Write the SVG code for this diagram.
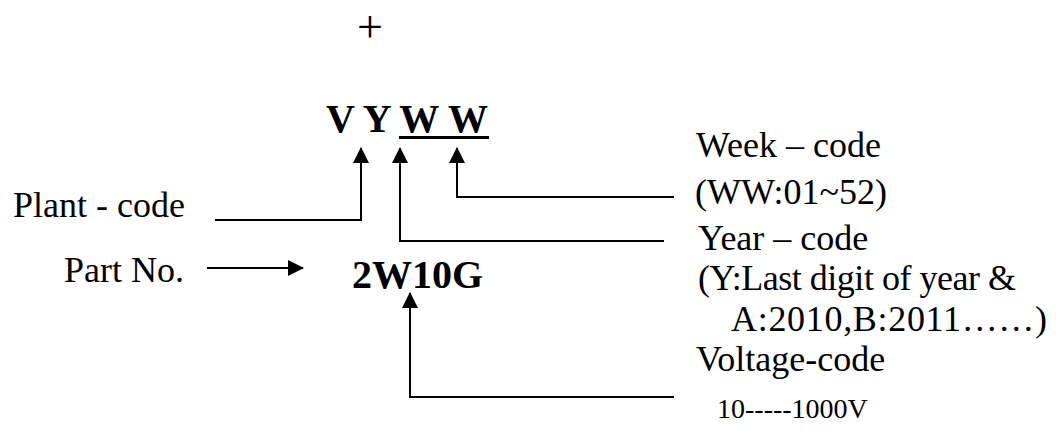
<svg xmlns="http://www.w3.org/2000/svg" width="1056" height="448" viewBox="0 0 1056 448">
<style>
text{font-family:"Liberation Serif","Times New Roman",serif;fill:#000}
.t{font-size:36px}
.b{font-size:40px;font-weight:bold}
.s{font-size:28px}
.c{fill:none;stroke:#000;stroke-width:2}
</style>
<defs>
<marker id="ah" viewBox="0 0 16 16" refX="15" refY="8" markerWidth="16" markerHeight="16" markerUnits="userSpaceOnUse" orient="auto">
<path d="M0,0 L16,8 L0,16 Z" fill="#000"/>
</marker>
</defs>
<rect width="1056" height="448" fill="#fff"/>
<g id="plus"><text x="357" y="42" style="font-size:46px">+</text></g>
<g id="code"><text class="b" x="326" y="132" xml:space="preserve">V Y W W</text><rect x="399" y="136" width="90" height="3" fill="#000"/></g>
<g id="plant"><text class="t" x="13" y="217">Plant - code</text></g>
<g id="week"><text class="t" x="696" y="157">Week – code</text><text class="t" x="695" y="204">(WW:01~52)</text></g>
<g id="year"><text class="t" x="698" y="250">Year – code</text><text class="t" x="698" y="290" textLength="318" lengthAdjust="spacing">(Y:Last digit of year &amp;</text><text class="t" x="731" y="331" textLength="316" lengthAdjust="spacing">A:2010,B:2011……)</text></g>
<g id="partno"><text class="t" x="64" y="282">Part No.</text></g>
<g id="part"><text class="b" x="352" y="288">2W10G</text></g>
<g id="voltage"><text class="t" x="696" y="371">Voltage-code</text><text class="s" x="717" y="418">10-----1000V</text></g>
<g id="connectors">
<path class="c" d="M215,220 H361 V148" marker-end="url(#ah)"/>
<path class="c" d="M664,241 H400 V148" marker-end="url(#ah)"/>
<path class="c" d="M674,197 H457 V148" marker-end="url(#ah)"/>
<path class="c" d="M207,268 H303" marker-end="url(#ah)"/>
<path class="c" d="M674,397 H410 V293" marker-end="url(#ah)"/>
</g>
</svg>
